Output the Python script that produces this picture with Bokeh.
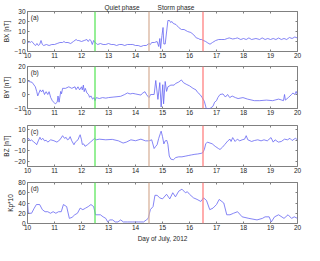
from bokeh.plotting import figure
from bokeh.layouts import column
from bokeh.models import Span, Label, LinearAxis, FixedTicker, Range1d
from bokeh.embed import file_html
from bokeh.resources import INLINE

# ---------------- data ----------------
bx_day = [10.0, 10.05, 10.1, 10.15, 10.2, 10.25, 10.3, 10.35, 10.4, 10.45, 10.5, 10.55, 10.6, 10.7, 10.8, 10.9,
          11.0, 11.1, 11.2, 11.3, 11.35, 11.4, 11.5, 11.6, 11.7, 11.8, 11.85, 11.9, 12.0, 12.1, 12.2, 12.25,
          12.3, 12.35, 12.4, 12.45, 12.5, 12.55, 12.6, 12.7, 12.8, 12.9, 13.0, 13.1, 13.2, 13.3, 13.4, 13.5,
          13.6, 13.7, 13.8, 13.9, 14.0, 14.1, 14.2, 14.3, 14.4, 14.5, 14.55, 14.6, 14.7, 14.8, 14.86, 14.9,
          14.93, 14.98, 15.02, 15.05, 15.1, 15.2, 15.26, 15.3, 15.35, 15.4, 15.5, 15.6, 15.7, 15.8, 15.93,
          16.05, 16.16, 16.25, 16.33, 16.39, 16.45, 16.5, 16.6, 16.68, 16.76, 16.85, 16.97, 17.08, 17.2,
          17.3, 17.4, 17.47, 17.6, 17.7, 17.77, 17.9, 18.0, 18.1, 18.2, 18.3, 18.46, 18.6, 18.69, 18.8,
          18.9, 19.0, 19.1, 19.2, 19.3, 19.4, 19.5, 19.6, 19.7, 19.8, 19.9, 20.0]
bx_val = [-2, 0, -1, 0, -1, -3, -4, -2, -4, -3, 1, -3, -4, -3, -4, -3,
          -3, -2, -1, -1, 0, -1, -1, -2, 0, 2, 1, 1, 0, 1, 2, 0,
          2, 1, -3, 1, -1, -2, -3, -2, -3, -3, -2, -3, -3, -4, -3, -3,
          -4, -3, -3, -3, -4, -4, -5, -4, -4, -2, -3, -1, -1, 0, -5, 3,
          -7, 6, 14, -2.5, -2.5, 21, 21, 19, 20, 18, 17, 14, 12, 12, 10,
          9, 6.6, 3.6, 3, 2, 2, 1.2, 0, -1.5, -2.7, -1, 1, 2, 2,
          2, 3, 3.6, 2.5, 3, 3.6, 2, 3, 2, 3.6, 2, 3, 2, 3.6, 2,
          3, 2, 3, 2, 3.5, 2, 3, 2, 4, 3, 4.5, 3.5]

by_day = [10.0, 10.05, 10.17, 10.29, 10.34, 10.38, 10.47, 10.52, 10.57, 10.63, 10.69, 10.75, 10.8, 10.86,
          10.92, 10.97, 11.03, 11.1, 11.13, 11.17, 11.23, 11.26, 11.3, 11.41, 11.53, 11.64, 11.76, 11.8,
          11.87, 11.93, 12.0, 12.03, 12.07, 12.1, 12.14, 12.2, 12.26, 12.3, 12.35, 12.41, 12.47, 12.5,
          12.55, 12.66, 12.78, 12.9, 13.0, 13.2, 13.45, 13.6, 13.7, 13.8, 13.9, 14.0, 14.2, 14.25, 14.35,
          14.4, 14.45, 14.5, 14.56, 14.69, 14.75, 14.83, 14.9, 14.95, 15.01, 15.04, 15.1, 15.15, 15.2,
          15.31, 15.43, 15.48, 15.6, 15.7, 15.78, 15.9, 16.0, 16.13, 16.24, 16.3, 16.39, 16.47, 16.55,
          16.62, 16.76, 16.87, 16.93, 17.0, 17.05, 17.13, 17.24, 17.33, 17.41, 17.49, 17.58, 17.7, 17.8,
          17.98, 18.15, 18.4, 18.6, 18.85, 19.08, 19.3, 19.42, 19.48, 19.52, 19.55, 19.66, 19.78, 19.83,
          19.9, 19.95, 20.0]
by_val = [10, 9.3, 8.7, 5.5, 2.2, -1, 3.3, 1.8, 3.3, 0, 2, 0, 2, -2.2,
          -4.4, -5.5, -6.7, -5.5, -1.1, -5.5, 2.2, 0.5, 4.4, 4.4, 5.5, 4.4, 5.5, 3.5,
          5.5, 3.3, 5.5, 3.3, 6.7, 2, 4.4, 1.1, 0, -2, -1, -3.3, -2.2, -4.4,
          -2.2, -2.9, -2.2, -2.6, -2.2, -1.8, -1.3, 0, 1.1, 0.4, 0.8, 0.4, -0.4, 0.8, 2,
          0.2, -1.1, -2.2, 0, 0, 10, -3.5, 8.5, -8.9, 7, -6.7, 9.3, 2.2, 5.5,
          6.7, 6.7, 7.8, 8.9, 10.4, 8.4, 7.1, 6.2, 4.4, 3.3, 1.5, 0, -2.2, -4.9,
          -10, -10, -8.4, -5.5, -4.4, -2.2, 0, 0.4, -1.8, 0, -2.2, -1.1, -2.2, -2.9,
          -2.2, -3.3, -4.4, -4.4, -4, -4.4, -3.3, -4, -4.4, 0, -4, -2.2, 0, 1.1,
          0, 2.2, 0]

bz_day = [10.0, 10.04, 10.1, 10.15, 10.23, 10.29, 10.34, 10.4, 10.46, 10.51, 10.57, 10.63, 10.69, 10.75,
          10.86, 10.98, 11.09, 11.2, 11.3, 11.37, 11.43, 11.48, 11.53, 11.58, 11.64, 11.72, 11.77, 11.87,
          11.93, 11.95, 12.0, 12.03, 12.08, 12.13, 12.22, 12.33, 12.43, 12.48, 12.54, 12.66, 12.9, 13.14,
          13.37, 13.54, 13.66, 13.83, 14.0, 14.2, 14.37, 14.5, 14.6, 14.69, 14.75, 14.8, 14.86, 14.92,
          14.95, 15.0, 15.05, 15.1, 15.16, 15.2, 15.25, 15.31, 15.4, 15.49, 15.6, 15.72, 15.84, 15.95,
          16.07, 16.2, 16.3, 16.43, 16.49, 16.55, 16.6, 16.66, 16.76, 16.84, 16.95, 17.07, 17.13, 17.22,
          17.3, 17.42, 17.5, 17.54, 17.6, 17.69, 17.77, 17.86, 17.95, 18.04, 18.1, 18.16, 18.3, 18.4,
          18.53, 18.65, 18.76, 18.88, 19.02, 19.1, 19.17, 19.29, 19.4, 19.52, 19.63, 19.72, 19.8, 19.92,
          20.0]
bz_val = [0.4, 1.8, -0.6, 0.4, -1.8, -2.7, -4.3, -0.6, 2.8, 0.4, 1.8, -0.6, 0, -1.8,
          0.4, -0.5, -1.8, 0.4, 4.3, 1.8, 2.7, 0.4, 1, 3.4, -0.6, -4.3, -1.8, 0.4,
          4.3, 5.2, 0.4, -4, -3.5, -5.8, -4.3, -1.8, 0.4, 1.8, 0.4, 1, 0.4, 0.8,
          -0.6, -2.7, -1.8, 0.4, -0.5, 1, -0.6, -0.6, 0.4, -7.9, -5.8, -4.3, 1.8, 6.4,
          8.6, 3.4, -3.5, -0.6, -0.2, -3.9, -15, -18, -18.6, -16.5, -15.8, -15.8, -15.2, -14.6,
          -14, -13.4, -13.1, -12.5, -11.9, -8.8, -3.5, -1.8, -2.7, -3.4, -5.8, -7.9, -8.8, -6.7,
          -4.3, -0.6, 1, -1.2, 2.5, -1.2, 1, -0.6, 0.4, 1, 4.3, 0.4, -1.2, -0.3,
          0.4, -0.6, 0.4, -0.6, 2.5, -1.8, 0.4, -1.8, -1.2, 1, 0.4, 1.8, -0.3, 1.8,
          0.4]

kp_day = [10.0, 10.03, 10.15, 10.25, 10.33, 10.45, 10.55, 10.65, 10.75, 10.85, 10.95, 11.05, 11.15,
          11.25, 11.33, 11.45, 11.55, 11.65, 11.75, 11.85, 11.95, 12.05, 12.15, 12.25, 12.35, 12.45,
          12.52, 12.7, 12.8, 12.9, 12.97, 13.05, 13.15, 13.25, 13.35, 13.45, 13.55, 13.7, 13.9, 14.1,
          14.3, 14.4, 14.47, 14.55, 14.65, 14.72, 14.8, 14.9, 15.0, 15.15, 15.27, 15.38, 15.48, 15.6,
          15.72, 15.85, 15.92, 16.0, 16.15, 16.28, 16.42, 16.52, 16.63, 16.75, 16.87, 17.0, 17.1,
          17.27, 17.38, 17.5, 17.63, 17.78, 17.95, 18.2, 18.5, 18.7, 18.8, 18.95, 19.03, 19.15, 19.3,
          19.5, 19.65, 19.78, 19.88, 20.0]
kp_val = [40, 20, 20, 30, 37, 37, 27, 23, 23, 20, 23, 20, 23,
          23, 37, 33, 10, 12, 17, 20, 30, 27, 30, 33, 37, 33,
          17, 17, 13, 10, 3, 7, 7, 3, 3, 7, 3, 3, 3, 3,
          3, 7, 10, 27, 33, 55, 55, 50, 48, 57, 48, 60, 52, 63,
          67, 60, 62, 57, 50, 47, 43, 50, 45, 27, 30, 37, 47,
          40, 17, 17, 20, 23, 13, 10, 7, 10, 13, 13, 3, 13, 17,
          10, 17, 10, 13, 10]

x_ticks = list(range(10, 21))
series = [
    ("BX [nT]", "(a)", bx_day, bx_val, (-10, 30), [-10, 0, 10, 20, 30]),
    ("BY [nT]", "(b)", by_day, by_val, (-10, 20), [-10, 0, 10, 20]),
    ("BZ [nT]", "(c)", bz_day, bz_val, (-25, 14), [-20, -10, 0, 10]),
    ("Kp*10", "(d)", kp_day, kp_val, (0, 80), [0, 20, 40, 60, 80]),
]
phase_bounds = [12.5, 14.5, 16.5]
phase_colors = ["#5ee65e", "#d9b39c", "#ff8080"]
phase_names = ["Quiet phase", "Storm phase"]
phase_label_x = [13.5, 15.5]
x_label = "Day of July, 2012"

# ---------------- layout ----------------
FONT = "Liberation Sans"
FS = "6.5px"
LINE = "#6666f2"
BOX = "#808080"
TXT = "#262626"

heights = [60, 58, 59, 68]
tops = [10, 6, 7, 5]
bottoms = [9, 10, 11, 22]


def style_axis(ax):
    ax.axis_line_color = None
    ax.major_tick_line_color = BOX
    ax.major_tick_in = 2
    ax.major_tick_out = 0
    ax.minor_tick_line_color = None
    ax.major_label_text_font = FONT
    ax.major_label_text_font_size = FS
    ax.major_label_text_color = TXT
    ax.axis_label_text_font = FONT
    ax.axis_label_text_font_size = FS
    ax.axis_label_text_color = TXT
    ax.axis_label_text_font_style = "normal"


figs = []
for i, (ylab, tag, xd, yd, yr, yt) in enumerate(series):
    p = figure(width=304, height=heights[i], output_backend="svg", toolbar_location=None,
               x_range=Range1d(10, 20), y_range=Range1d(*yr),
               min_border_left=22, min_border_right=7,
               min_border_top=tops[i], min_border_bottom=bottoms[i])
    p.xgrid.visible = False
    p.ygrid.visible = False
    p.outline_line_color = BOX
    p.outline_line_width = 1
    p.background_fill_color = "white"
    p.border_fill_color = "white"

    p.line(xd, yd, line_color=LINE, line_width=0.8)

    for loc, col in zip(phase_bounds, phase_colors):
        p.add_layout(Span(location=loc, dimension="height", line_color=col, line_width=1.3))

    p.add_layout(Label(x=10.12, y=yr[1], y_offset=-2, text=tag, text_font=FONT,
                       text_font_size=FS, text_color=TXT, text_baseline="top", text_align="left"))

    bottom_ax = p.xaxis[0]
    left_ax = p.yaxis[0]
    style_axis(bottom_ax)
    style_axis(left_ax)
    bottom_ax.ticker = FixedTicker(ticks=x_ticks)
    bottom_ax.major_label_standoff = 1
    left_ax.ticker = FixedTicker(ticks=yt)
    left_ax.major_label_standoff = 2
    left_ax.axis_label = ylab
    left_ax.axis_label_standoff = 1
    if i == len(series) - 1:
        bottom_ax.axis_label = x_label
        bottom_ax.axis_label_standoff = 2

    top_ax = LinearAxis(ticker=FixedTicker(ticks=x_ticks),
                        major_label_overrides={t: "" for t in x_ticks},
                        major_label_standoff=0)
    right_ax = LinearAxis(ticker=FixedTicker(ticks=yt),
                          major_label_overrides={t: "" for t in yt},
                          major_label_standoff=0)
    for ax in (top_ax, right_ax):
        style_axis(ax)
        ax.major_label_text_font_size = "1px"
    p.add_layout(top_ax, "above")
    p.add_layout(right_ax, "right")

    if i == 0:
        phase_ax = LinearAxis(ticker=FixedTicker(ticks=phase_label_x),
                              major_label_overrides={x: n for x, n in zip(phase_label_x, phase_names)},
                              major_label_standoff=1)
        style_axis(phase_ax)
        phase_ax.major_tick_line_color = None
        phase_ax.major_tick_in = 0
        p.add_layout(phase_ax, "above")
    figs.append(p)

layout = column(*figs, spacing=0)
open("out.html", "w").write(file_html(layout, INLINE))
